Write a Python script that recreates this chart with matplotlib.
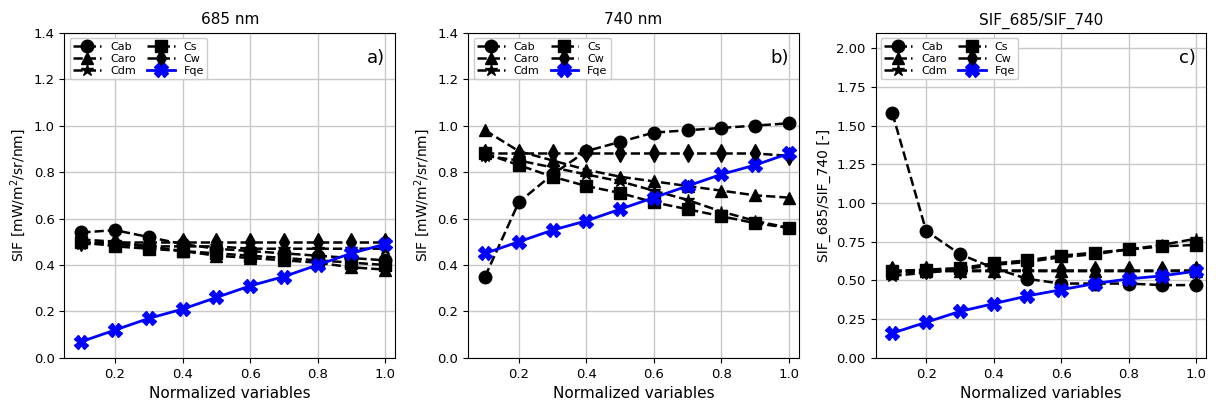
import numpy as np
import matplotlib
matplotlib.use("Agg")
import matplotlib.pyplot as plt

x = np.round(np.arange(0.1, 1.01, 0.1), 1)
names = ["Cab", "Caro", "Cdm", "Cs", "Cw", "Fqe"]
markers = ["o", "^", "*", "s", "d", "X"]

sif685 = {
    "Cab": [0.54, 0.55, 0.52, 0.49, 0.47, 0.46, 0.45, 0.44, 0.43, 0.42],
    "Caro": [0.51, 0.50, 0.48, 0.46, 0.44, 0.43, 0.42, 0.41, 0.39, 0.38],
    "Cdm": [0.49, 0.49, 0.48, 0.48, 0.48, 0.47, 0.47, 0.47, 0.47, 0.47],
    "Cs": [0.50, 0.48, 0.47, 0.46, 0.45, 0.44, 0.43, 0.42, 0.41, 0.40],
    "Cw": [0.50, 0.50, 0.50, 0.50, 0.50, 0.50, 0.50, 0.50, 0.50, 0.50],
    "Fqe": [0.07, 0.12, 0.17, 0.21, 0.26, 0.31, 0.35, 0.40, 0.45, 0.49],
}
sif740 = {
    "Cab": [0.35, 0.67, 0.79, 0.89, 0.93, 0.97, 0.98, 0.99, 1.00, 1.01],
    "Caro": [0.98, 0.89, 0.85, 0.81, 0.78, 0.76, 0.74, 0.72, 0.70, 0.69],
    "Cdm": [0.87, 0.85, 0.82, 0.79, 0.76, 0.72, 0.68, 0.63, 0.59, 0.56],
    "Cs": [0.88, 0.83, 0.78, 0.74, 0.71, 0.67, 0.64, 0.61, 0.58, 0.56],
    "Cw": [0.88, 0.88, 0.88, 0.88, 0.88, 0.88, 0.88, 0.88, 0.88, 0.87],
    "Fqe": [0.45, 0.50, 0.55, 0.59, 0.64, 0.69, 0.74, 0.79, 0.83, 0.88],
}
ratio = {
    "Cab": [1.58, 0.82, 0.67, 0.58, 0.51, 0.48, 0.48, 0.48, 0.47, 0.47],
    "Caro": [0.55, 0.56, 0.56, 0.56, 0.56, 0.56, 0.56, 0.56, 0.56, 0.56],
    "Cdm": [0.53, 0.55, 0.57, 0.60, 0.62, 0.65, 0.67, 0.70, 0.73, 0.77],
    "Cs": [0.56, 0.57, 0.58, 0.61, 0.63, 0.66, 0.68, 0.70, 0.72, 0.73],
    "Cw": [0.57, 0.57, 0.57, 0.57, 0.57, 0.57, 0.57, 0.57, 0.57, 0.57],
    "Fqe": [0.16, 0.23, 0.30, 0.35, 0.40, 0.44, 0.48, 0.51, 0.53, 0.56],
}

panels = [
    (sif685, "685 nm", "SIF [mW/m$^2$/sr/nm]", "a)", (0, 1.4), np.arange(0, 1.41, 0.2)),
    (sif740, "740 nm", "SIF [mW/m$^2$/sr/nm]", "b)", (0, 1.4), np.arange(0, 1.41, 0.2)),
    (ratio, "SIF_685/SIF_740", "SIF_685/SIF_740 [-]", "c)", (0, 2.1), np.arange(0, 2.01, 0.25)),
]

fig = plt.figure(figsize=(12.16, 4.09), dpi=100)
lefts = [0.053, 0.385, 0.72]
for (data, title, ylabel, letter, ylim, yticks), left in zip(panels, lefts):
    ax = fig.add_axes([left, 0.125, 0.272, 0.795])
    for name, m in zip(names, markers):
        if name == "Fqe":
            ax.plot(x, data[name], "-", color="blue", marker=m, ms=10, lw=2, label=name)
        else:
            ax.plot(x, data[name], "--", color="k", marker=m, ms=9, lw=1.8, label=name)
    ax.set_ylim(*ylim)
    ax.set_yticks(yticks)
    ax.set_xlim(0.05, 1.03)
    ax.set_xticks([0.2, 0.4, 0.6, 0.8, 1.0])
    ax.grid(True, color="#c8c8c8", lw=1)
    ax.set_title(title, fontsize=11)
    ax.set_ylabel(ylabel, fontsize=10)
    ax.set_xlabel("Normalized variables", fontsize=11)
    ax.tick_params(labelsize=9.5)
    ax.legend(loc="upper left", ncol=2, fontsize=8, framealpha=1,
              handlelength=2.5, borderpad=0.3, labelspacing=0.2, columnspacing=1.0)
    ax.text(0.97, 0.95, letter, transform=ax.transAxes, ha="right", va="top", fontsize=13)

fig.savefig("out.png", dpi=100)
